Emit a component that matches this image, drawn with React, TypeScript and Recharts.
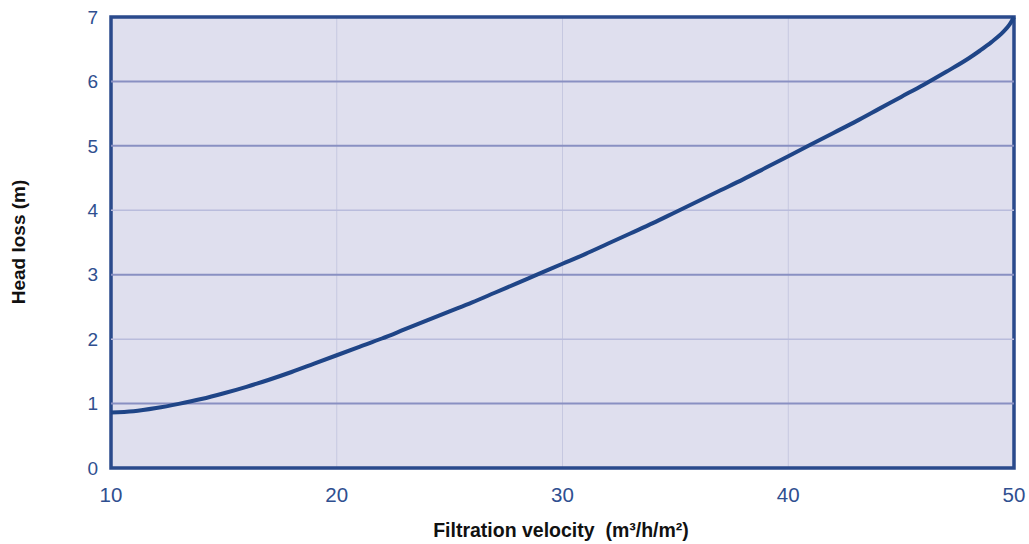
import React from "react";
import {
  LineChart,
  Line,
  XAxis,
  YAxis,
  CartesianGrid,
  ReferenceLine,
  ReferenceArea,
} from "recharts";

const velocity = [
  10, 11, 12, 13, 14, 15, 16, 17, 18, 19, 20, 21, 22, 23, 24, 25, 26, 27, 28, 29,
  30, 31, 32, 33, 34, 35, 36, 37, 38, 39, 40, 41, 42, 43, 44, 45, 46, 47, 48,
  48.5, 49, 49.5, 49.8, 50,
];
const headLoss = [
  0.86, 0.88, 0.93, 0.995, 1.07, 1.16, 1.26, 1.37, 1.49, 1.62, 1.75, 1.88, 2.01,
  2.15, 2.29, 2.43, 2.57, 2.72, 2.87, 3.02, 3.17, 3.32, 3.48, 3.64, 3.8, 3.97,
  4.14, 4.31, 4.48, 4.66, 4.84, 5.02, 5.2, 5.38, 5.57, 5.76, 5.95, 6.15, 6.36,
  6.48, 6.61, 6.76, 6.88, 7.0,
];
const xTicks = [10, 20, 30, 40, 50];
const yTicks = [0, 1, 2, 3, 4, 5, 6, 7];
const emphasizedY = [1, 3, 5, 6];

const xTitle = "Filtration velocity\u00a0\u00a0(m³/h/m²)";
const yTitle = "Head loss (m)";

const data = velocity.map((v, i) => ({ v, h: headLoss[i] }));

const DARK = "#2a4a8c";
const TICK = "#2f4f90";
const FONT = "Liberation Sans, Arial, sans-serif";

export default function App() {
  return (
    <div style={{ position: "absolute", left: 0, top: 0 }}>
      <LineChart
        width={1029}
        height={544}
        data={data}
        margin={{ top: 17, right: 15, bottom: 0, left: 0 }}
      >
        <CartesianGrid
          horizontal={false}
          vertical={true}
          stroke="#c6c8e0"
          strokeWidth={1}
          fill="#dfdfee"
          fillOpacity={1}
        />
        {yTicks
          .filter((t) => t > 0 && t < 7)
          .map((t) => (
            <ReferenceLine
              key={t}
              y={t}
              stroke={emphasizedY.includes(t) ? "#8990c2" : "#b9bcdc"}
              strokeWidth={emphasizedY.includes(t) ? 2 : 1.5}
            />
          ))}
        <XAxis
          dataKey="v"
          type="number"
          domain={[10, 50]}
          ticks={xTicks}
          interval={0}
          height={76}
          axisLine={false}
          tickLine={false}
          tickSize={17}
          tick={{ fill: TICK, fontSize: 20.5, fontFamily: FONT }}
          label={{
            content: () => (
              <text
                x={561}
                y={537}
                textAnchor="middle"
                fontFamily={FONT}
                fontWeight="bold"
                fontSize={19.5}
                fill="#111"
              >
                {xTitle}
              </text>
            ),
          }}
        />
        <YAxis
          type="number"
          domain={[0, 7]}
          ticks={yTicks}
          interval={0}
          width={111}
          axisLine={false}
          tickLine={false}
          tickSize={11}
          tick={{ fill: TICK, fontSize: 19, fontFamily: FONT }}
          label={{
            content: () => (
              <text
                x={18}
                y={242}
                transform="rotate(-90 18 242)"
                textAnchor="middle"
                dominantBaseline="central"
                fontFamily={FONT}
                fontWeight="bold"
                fontSize={19}
                fill="#111"
              >
                {yTitle}
              </text>
            ),
          }}
        />
        <ReferenceArea
          x1={10}
          x2={50}
          y1={0}
          y2={7}
          fill="none"
          stroke={DARK}
          strokeWidth={3.5}
          fillOpacity={0}
        />
        <Line
          type="monotone"
          dataKey="h"
          stroke="#1f4587"
          strokeWidth={4}
          dot={false}
          isAnimationActive={false}
        />
      </LineChart>
    </div>
  );
}
